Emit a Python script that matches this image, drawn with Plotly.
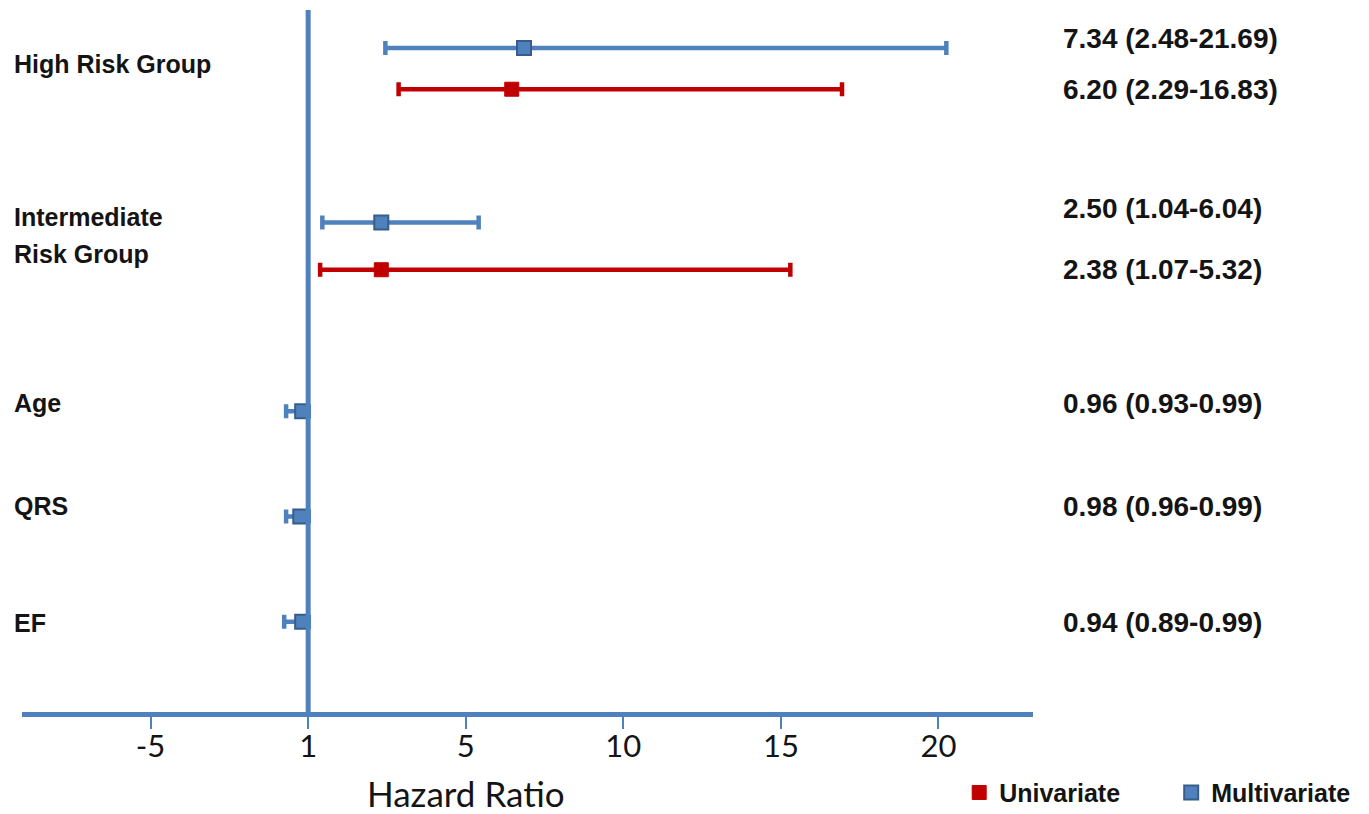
import plotly.graph_objects as go

# ---- data (axis position 0 is labelled "1") ----
rows = ["High Risk Group", "Intermediate<br>Risk Group", "Age", "QRS", "EF"]
row_label_y = [6.46, 4.75, 3.08, 2.05, 0.89]

multi_y = [6.62, 4.88, 3.0, 1.95, 0.90]
multi_point = [6.85, 2.32, -0.19, -0.25, -0.19]
multi_lo = [2.45, 0.45, -0.70, -0.70, -0.76]
multi_hi = [20.25, 5.41, 0.02, 0.02, 0.02]

uni_y = [6.21, 4.41]
uni_point = [6.46, 2.32]
uni_lo = [2.87, 0.38]
uni_hi = [16.94, 15.3]

ci_text = ["7.34 (2.48-21.69)", "6.20 (2.29-16.83)", "2.50 (1.04-6.04)",
           "2.38 (1.07-5.32)", "0.96 (0.93-0.99)", "0.98 (0.96-0.99)",
           "0.94 (0.89-0.99)"]
ci_text_y = [6.72, 6.21, 5.02, 4.41, 3.08, 2.05, 0.89]

tick_vals = [-5, 0, 5, 10, 15, 20]
tick_text = ["-5", "1", "5", "10", "15", "20"]

BLUE = "#4F81BD"
BLUE_DARK = "#385D8A"
RED = "#C00000"
TXT = "#141414"
LABEL_FONT = "Liberation Sans"
AXIS_FONT = "Lato"

fig = go.Figure()

fig.add_trace(go.Scatter(
    x=multi_point, y=multi_y, mode="markers", name="Multivariate",
    marker=dict(symbol="square", size=14, color=BLUE,
                line=dict(color=BLUE_DARK, width=2)),
    error_x=dict(type="data", symmetric=False,
                 array=[h - p for h, p in zip(multi_hi, multi_point)],
                 arrayminus=[p - l for p, l in zip(multi_point, multi_lo)],
                 color=BLUE, thickness=4.5, width=7),
))
fig.add_trace(go.Scatter(
    x=uni_point, y=uni_y, mode="markers", name="Univariate",
    marker=dict(symbol="square", size=14, color=RED,
                line=dict(color=RED, width=1)),
    error_x=dict(type="data", symmetric=False,
                 array=[h - p for h, p in zip(uni_hi, uni_point)],
                 arrayminus=[p - l for p, l in zip(uni_point, uni_lo)],
                 color=RED, thickness=4.5, width=7),
))

# reference line at HR = 1
fig.add_shape(type="line", xref="x", yref="paper", x0=0, x1=0, y0=0, y1=1,
              line=dict(color=BLUE, width=5), layer="above")

annotations = []
LINE_STEP = 0.37  # spacing between lines of a two-line row label (y units)
for lab, yy in zip(rows, row_label_y):
    parts = lab.split("<br>")
    n = len(parts)
    for i, part in enumerate(parts):
        y_line = yy + (n - 1) / 2 * LINE_STEP - i * LINE_STEP
        annotations.append(dict(text=part, x=-0.0099, xref="paper", y=y_line,
                                yref="y", xanchor="left", yanchor="middle",
                                showarrow=False,
                                font=dict(family=LABEL_FONT, size=25,
                                          color=TXT, weight="bold")))
for lab, yy in zip(ci_text, ci_text_y):
    annotations.append(dict(text=lab, x=1.0275, xref="paper", y=yy, yref="y",
                            xanchor="left", yanchor="middle", showarrow=False,
                            font=dict(family=LABEL_FONT, size=28, color=TXT,
                                      weight="bold")))
annotations.append(dict(text="Hazard Ratio", x=0.439, xref="paper", y=-0.115,
                        yref="paper", xanchor="center", yanchor="middle",
                        showarrow=False,
                        font=dict(family=AXIS_FONT, size=35, color=TXT)))

fig.update_layout(
    width=1369, height=814,
    margin=dict(l=22, r=336, t=10, b=102, autoexpand=False),
    paper_bgcolor="white", plot_bgcolor="white",
    showlegend=True,
    legend=dict(orientation="h", x=0.927, y=-0.115, xanchor="left",
                yanchor="middle", traceorder="reversed",
                entrywidth=167, entrywidthmode="pixels",
                font=dict(family=LABEL_FONT, size=25, color=TXT,
                          weight="bold")),
    annotations=annotations,
    xaxis=dict(range=[-9.08, 23.0], tickvals=tick_vals, ticktext=tick_text,
               showgrid=False, zeroline=False, showline=True,
               linecolor=BLUE, linewidth=5, ticks="outside", ticklen=12,
               tickwidth=2, tickcolor=BLUE, ticklabelstandoff=-9,
               tickfont=dict(family=AXIS_FONT, size=31, color=TXT)),
    yaxis=dict(range=[0, 7], showgrid=False, zeroline=False, showline=False,
               showticklabels=False, ticks=""),
)

fig.write_html("out.html")
